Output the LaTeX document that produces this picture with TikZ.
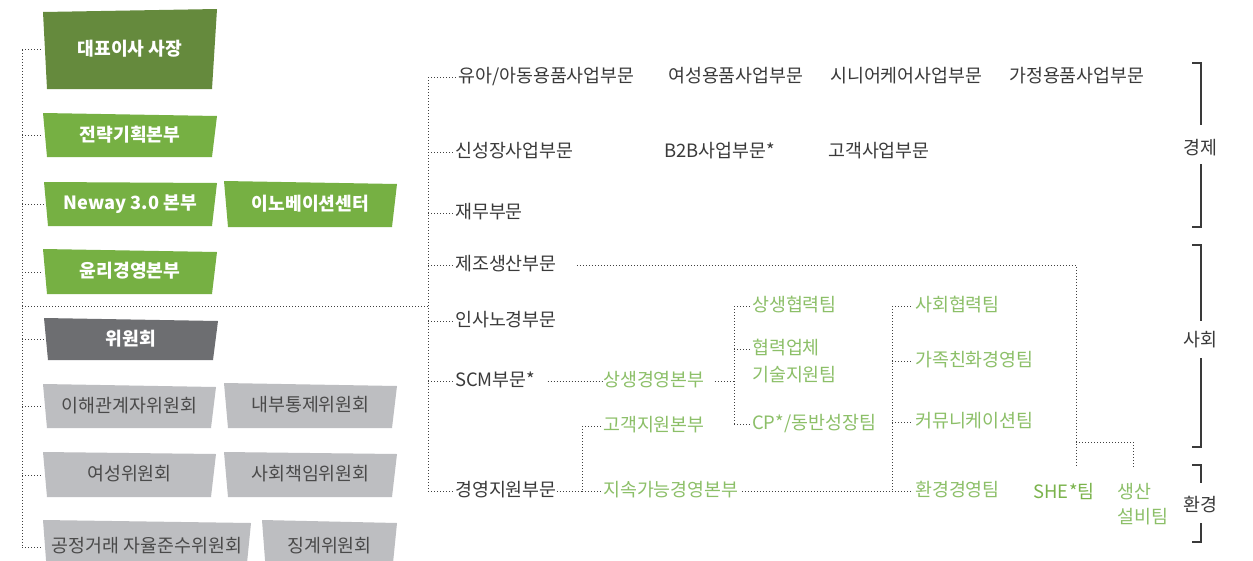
\documentclass[tikz,border=0pt]{standalone}
\usepackage{fontspec}
\setmainfont{Noto Sans CJK KR}
\usetikzlibrary{calc}
\definecolor{dgreen}{HTML}{658A3D}
\definecolor{lgreen}{HTML}{76B043}
\definecolor{dgrey}{HTML}{6D6E71}
\definecolor{lgrey}{HTML}{BDBEC1}
\definecolor{txt}{HTML}{3A3A3A}
\definecolor{boxtxt}{HTML}{4A4A4A}
\definecolor{gtxt}{HTML}{8CBF68}
\definecolor{shetxt}{HTML}{7AB34B}
\definecolor{dotc}{HTML}{404040}
% name, x0, y top-left, x1, y top-right, y bottom, fill, text style, text
\newcommand\skbox[9]{%
  \fill[#7] (#2,#3) -- (#4,#5) -- ({#4-5},#6) -- ({#2+4},#6) -- cycle;
  \node[boxtext,#8,minimum width={(#4-#2)*1pt},minimum height={(#6-(#3+#5)/2)*1pt}]
    (#1) at ({(#2+#4)/2},{(#6+(#3+#5)/2)/2}) {#9};}
\begin{document}
\begin{tikzpicture}[x=1pt,y=-1pt,
  font=\fontsize{18.4}{22}\selectfont,
  boxtext/.style={inner sep=0pt, align=center, text height=14pt, text depth=3pt},
  wtext/.style={text=white, font=\fontsize{18.2}{22}\selectfont\bfseries},
  gytext/.style={text=boxtxt},
  lbl/.style={anchor=west, inner sep=0pt, text=txt, text height=14pt, text depth=3pt},
  glbl/.style={anchor=west, inner sep=0pt, text=gtxt, text height=14pt, text depth=3pt},
  dotline/.style={draw=dotc, line width=1pt, dotted},
  bracket/.style={draw=txt, line width=1.3pt},
]
\clip (0,0) rectangle (1253,560);
\fill[white] (0,0) rectangle (1253,560);

% ---------- left boxes ----------
\skbox{ceo}{43}{12}{217}{9}{89}{dgreen}{wtext}{대표이사 사장}
\skbox{strat}{43}{113}{217}{116}{157}{lgreen}{wtext}{전략기획본부}
\skbox{neway}{44}{182}{217}{183}{226}{lgreen}{wtext}{Neway 3.0 본부}
\skbox{innov}{224}{181}{397}{184}{227}{lgreen}{wtext}{이노베이션센터}
\skbox{ethics}{43}{249}{217}{252}{294}{lgreen}{wtext}{윤리경영본부}
\skbox{comm}{44}{318}{218}{321}{360}{dgrey}{wtext}{위원회}
\skbox{stake}{43}{384}{216}{387}{428}{lgrey}{gytext}{이해관계자위원회}
\skbox{ictl}{224}{383}{397}{386}{428}{lgrey}{gytext}{내부통제위원회}
\skbox{women}{43}{452}{216}{454}{497}{lgrey}{gytext}{여성위원회}
\skbox{csr}{224}{452}{397}{454}{497}{lgrey}{gytext}{사회책임위원회}
\skbox{fair}{43}{520}{251}{523}{573}{lgrey}{gytext}{공정거래 자율준수위원회}
\skbox{disc}{262}{520}{397}{523}{573}{lgrey}{gytext}{징계위원회}

% ---------- left tree ----------
\coordinate (lv) at (22,0);
\draw[dotline] (ceo.west -| lv) -- (fair.west -| lv);
\foreach \b in {ceo,strat,neway,ethics,comm,stake,women,fair}
  \draw[dotline] (\b.west -| lv) -- (\b.west);
\coordinate (hubL) at (22,306);
\coordinate (hubR) at (428,306);
\draw[dotline] (hubL) -- (hubR);

% ---------- divisions ----------
\node[lbl] (t1) at (458,77) {유아/아동용품사업부문};
\node[lbl] (t2) at (668,77) {여성용품사업부문};
\node[lbl] (t3) at (830,77) {시니어케어사업부문};
\node[lbl] (t4) at (1009,77) {가정용품사업부문};
\node[lbl] (t5) at (455,152) {신성장사업부문};
\node[lbl] (t6) at (664,152) {B2B사업부문*};
\node[lbl] (t7) at (828,152) {고객사업부문};
\node[lbl] (t8) at (455,213) {재무부문};
\node[lbl] (t9) at (455,265) {제조생산부문};
\node[lbl] (t10) at (455,321) {인사노경부문};
\node[lbl] (t11) at (455,381) {SCM부문*};
\node[lbl] (t12) at (455,491) {경영지원부문};

\coordinate (rv) at (428,0);
\draw[dotline] (t1.west -| rv) -- (t12.west -| rv);
\foreach \t in {t1,t5,t8,t9,t10,t11,t12}
  \draw[dotline,shorten >=2pt] (\t.west -| rv) -- (\t.west);

% ---------- green units ----------
\node[glbl] (g1) at (603,381) {상생경영본부};
\node[glbl] (g2) at (603,426) {고객지원본부};
\node[glbl] (g3) at (603,491) {지속가능경영본부};
\node[glbl] (g4) at (752,306) {상생협력팀};
\node[glbl] (g5a) at (752,349) {협력업체};
\node[glbl] (g5b) at (752,376) {기술지원팀};
\node[glbl] (g6) at (752,424) {CP*/동반성장팀};
\node[glbl] (g7) at (915,306) {사회협력팀};
\node[glbl] (g8) at (915,361) {가족친화경영팀};
\node[glbl] (g9) at (915,422) {커뮤니케이션팀};
\node[glbl] (g10) at (915,491) {환경경영팀};
\node[glbl,text=shetxt] (g11) at (1033,493) {SHE\kern1pt*팀};
\node[glbl] (g12a) at (1117,493) {생산};
\node[glbl] (g12b) at (1117,518) {설비팀};

% SCM branch
\draw[dotline] ([xshift=12pt]t11.east) -- ([xshift=-1pt]g1.west);
\coordinate (v1) at (734,0);
\draw[dotline] ([xshift=10pt]g1.east) -- (g1.east -| v1);
\draw[dotline] (g4.west -| v1) -- (g6.west -| v1);
\foreach \g in {g4,g5a,g6}
  \draw[dotline,shorten >=2pt] (\g.west -| v1) -- (\g.west);

% management support branch
\coordinate (v2) at (582,0);
\draw[dotline] (t12.east) -- (t12.east -| v2);
\draw[dotline] (g2.west -| v2) -- (g3.west -| v2);
\foreach \g in {g2,g3}
  \draw[dotline,shorten >=1pt] (\g.west -| v2) -- (\g.west);

% sustainability branch
\coordinate (v3) at (892,0);
\draw[dotline] ([xshift=3pt]g3.east) -- (g3.east -| v3);
\draw[dotline] (g7.west -| v3) -- (g10.west -| v3);
\foreach \g in {g7,g8,g9,g10}
  \draw[dotline,shorten >=2pt] (\g.west -| v3) -- (\g.west);

% production branch
\coordinate (pEnd) at (1076,467);
\coordinate (pBr) at (1076,442);
\coordinate (pEnd2) at (1133,467);
\draw[dotline] ([xshift=20pt]t9.east) -| (pEnd);
\draw[dotline] (pBr) -| (pEnd2);

% ---------- brackets ----------
\node[text=txt] (econ) at (1200,148) {경제};
\draw[bracket] (1192,63) -- (1201,63) -- (1201,125);
\draw[bracket] (1201,164) -- (1201,227) -- (1192,227);
\node[text=txt] (soc) at (1200,340) {사회};
\draw[bracket] (1192,245) -- (1201,245) -- (1201,321);
\draw[bracket] (1201,358) -- (1201,447) -- (1192,447);
\node[text=txt] (env) at (1200,505) {환경};
\draw[bracket] (1192,465) -- (1201,465) -- (1201,483);
\draw[bracket] (1201,523) -- (1201,542) -- (1192,542);
\end{tikzpicture}
\end{document}
